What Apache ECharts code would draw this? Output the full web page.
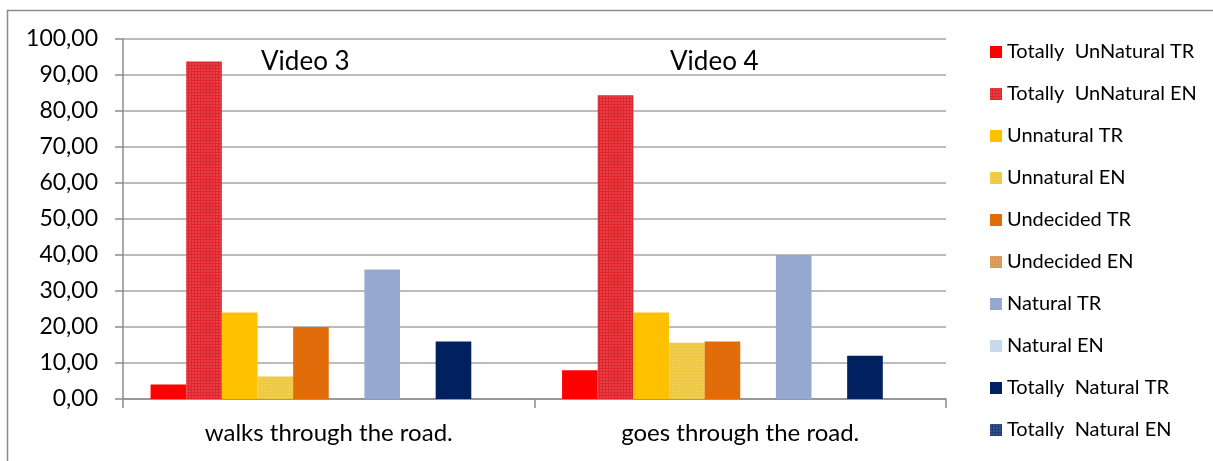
<!DOCTYPE html>
<html>
<head>
<meta charset="utf-8">
<script src="https://cdn.jsdelivr.net/npm/echarts@6/dist/echarts.min.js"></script>
<style>
  html, body { margin: 0; padding: 0; background: #fff; }
  #chart { width: 1213px; height: 461px; }
</style>
</head>
<body>
<div id="chart"></div>
<script>
const categories = ["walks through the road.", "goes through the road."];
const videoTitles = ["Video 3", "Video 4"];
const yTicks = [0, 10, 20, 30, 40, 50, 60, 70, 80, 90, 100];

const seriesNames = [
  "Totally  UnNatural TR", "Totally  UnNatural EN",
  "Unnatural TR", "Unnatural EN",
  "Undecided TR", "Undecided EN",
  "Natural TR", "Natural EN",
  "Totally  Natural TR", "Totally  Natural EN"
];
const totallyUnnaturalTR = [4, 8];
const totallyUnnaturalEN = [93.75, 84.38];
const unnaturalTR = [24, 24];
const unnaturalEN = [6.25, 15.63];
const undecidedTR = [20, 16];
const undecidedEN = [0, 0];
const naturalTR = [36, 40];
const naturalEN = [0, 0];
const totallyNaturalTR = [16, 12];
const totallyNaturalEN = [0, 0];

const seriesValues = [
  totallyUnnaturalTR, totallyUnnaturalEN, unnaturalTR, unnaturalEN,
  undecidedTR, undecidedEN, naturalTR, naturalEN,
  totallyNaturalTR, totallyNaturalEN
];
const colors = [
  "#FF0000", "#E0262C", "#FFC000", "#EEC83E",
  "#E36C0A", "#D99552", "#95A9D0", "#C6D6EC",
  "#002060", "#1F3D7A"
];

const font = "Lato, 'Open Sans', sans-serif";
const chart = echarts.init(document.getElementById("chart"));

const dotDecal = {
  symbol: "rect",
  symbolSize: 0.55,
  dashArrayX: [2, 1],
  dashArrayY: [2, 1],
  color: "rgba(255,255,255,0.45)"
};

const series = seriesNames.map((name, i) => ({
  name: name,
  type: "bar",
  data: seriesValues[i],
  barGap: "0%",
  barCategoryGap: "13.4%",
  itemStyle: Object.assign(
    { color: colors[i] },
    i % 2 === 1 ? { decal: dotDecal } : {}
  )
}));

const options = {
  animation: false,
  textStyle: { fontFamily: font },
  title: [
    { text: videoTitles[0], left: 256, top: 44,
      textStyle: { fontFamily: font, fontSize: 26, fontWeight: "normal", color: "#000" } },
    { text: videoTitles[1], left: 665, top: 44,
      textStyle: { fontFamily: font, fontSize: 26, fontWeight: "normal", color: "#000" } }
  ],
  legend: {
    orient: "vertical",
    left: 985,
    top: 37,
    itemWidth: 12,
    itemHeight: 12,
    itemGap: 22,
    icon: "rect",
    textStyle: { fontFamily: font, fontSize: 20, color: "#000", lineHeight: 20 },
    data: seriesNames.map((name, i) =>
      i % 2 === 1 ? { name: name, itemStyle: { decal: dotDecal } } : { name: name })
  },
  grid: { left: 123, right: 267, top: 39, bottom: 62, containLabel: false },
  xAxis: {
    type: "category",
    data: categories,
    axisLine: { lineStyle: { color: "#8c8c8c", width: 1.5 } },
    axisTick: { show: true, length: 9, lineStyle: { color: "#8c8c8c", width: 1.5 } },
    axisLabel: { fontFamily: font, fontSize: 24, color: "#000", margin: 22 }
  },
  yAxis: {
    type: "value",
    min: 0,
    max: 100,
    interval: 10,
    axisLine: { show: true, lineStyle: { color: "#8c8c8c", width: 1.5 } },
    axisTick: { show: true, length: 8, lineStyle: { color: "#8c8c8c", width: 1.5 } },
    splitLine: { lineStyle: { color: "#a6a6a6", width: 1.5 } },
    axisLabel: {
      fontFamily: font, fontSize: 23, color: "#000", margin: 25,
      formatter: v => yTicks.includes(v) ? v.toFixed(2).replace(".", ",") : ""
    }
  },
  graphic: [{
    type: "rect",
    shape: { x: 7.5, y: 10.5, width: 1220, height: 480 },
    style: { fill: "none", stroke: "#8c8c8c", lineWidth: 1.5 },
    silent: true
  }],
  series: series
};

chart.setOption(options);
</script>
</body>
</html>
